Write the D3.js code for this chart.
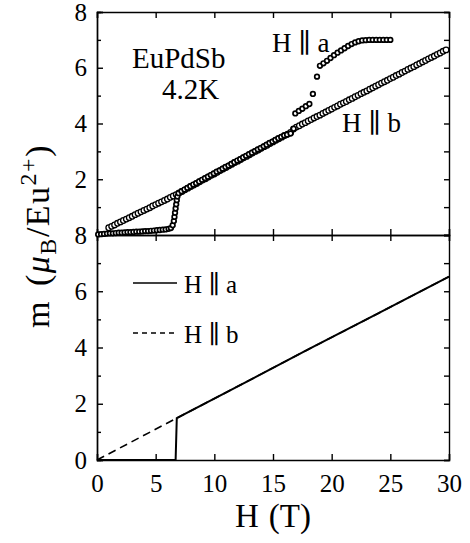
<!DOCTYPE html>
<html>
<head>
<meta charset="utf-8">
<script src="https://cdn.jsdelivr.net/npm/d3@7"></script>
<style>
  html, body { margin: 0; padding: 0; background: #fff; }
  svg { display: block; }
  text { font-family: 'Liberation Serif', 'DejaVu Serif', serif; fill: #000; }
  .axis path, .axis line { stroke: #000; stroke-width: 1.4; }
  .axis text { font-size: 25px; }
</style>
</head>
<body>
<div id="chart"></div>
<script>
// measured m(H), H || a  (top panel, [H in T, m in muB/Eu])
const measuredA = [
  [0.1, 0.02], [0.35, 0.03], [0.6, 0.04], [0.85, 0.05], [1.1, 0.06], [1.35, 0.06], [1.6, 0.07], [1.85, 0.08],
  [2.1, 0.08], [2.35, 0.09], [2.6, 0.10], [2.85, 0.10], [3.1, 0.11], [3.35, 0.12], [3.6, 0.12], [3.85, 0.13],
  [4.1, 0.14], [4.35, 0.14], [4.6, 0.15], [4.85, 0.16], [5.1, 0.17], [5.35, 0.18], [5.6, 0.19], [5.85, 0.20],
  [6.1, 0.22], [6.3, 0.25], [6.45, 0.35], [6.55, 0.50], [6.6, 0.65], [6.65, 0.80], [6.7, 0.95], [6.75, 1.10],
  [6.8, 1.25], [6.85, 1.38], [6.95, 1.50], [7.2, 1.57], [7.45, 1.63], [7.7, 1.69], [7.95, 1.75], [8.2, 1.81],
  [8.45, 1.86], [8.7, 1.92], [8.95, 1.98], [9.2, 2.04], [9.45, 2.09], [9.7, 2.15], [9.95, 2.21], [10.2, 2.27],
  [10.45, 2.32], [10.7, 2.38], [10.95, 2.44], [11.2, 2.49], [11.45, 2.55], [11.7, 2.61], [11.95, 2.67], [12.2, 2.72],
  [12.45, 2.78], [12.7, 2.84], [12.95, 2.90], [13.2, 2.95], [13.45, 3.01], [13.7, 3.07], [13.95, 3.12], [14.2, 3.18],
  [14.45, 3.24], [14.7, 3.30], [14.95, 3.35], [15.2, 3.41], [15.45, 3.47], [15.7, 3.52], [15.95, 3.57], [16.2, 3.60],
  [16.5, 3.64], [16.76, 3.81], [16.9, 4.36], [17.2, 4.45], [17.5, 4.53], [17.8, 4.62], [18.1, 4.70], [18.4, 5.06],
  [18.75, 5.68], [19.0, 6.07], [19.3, 6.16], [19.6, 6.25], [19.9, 6.35], [20.2, 6.45], [20.5, 6.54], [20.8, 6.62],
  [21.1, 6.70], [21.4, 6.78], [21.7, 6.85], [22.0, 6.91], [22.3, 6.95], [22.6, 6.98], [22.9, 6.99], [23.2, 7.0],
  [23.5, 7.0], [23.8, 7.0], [24.1, 7.0], [24.4, 7.0], [24.7, 7.0], [25.0, 7.0]
]

// measured m(H), H || b  (top panel)
const measuredB = [
  [1.0, 0.26], [1.25, 0.31], [1.5, 0.36], [1.75, 0.42], [2.0, 0.47], [2.25, 0.52], [2.5, 0.57], [2.75, 0.62],
  [3.0, 0.67], [3.25, 0.73], [3.5, 0.78], [3.75, 0.83], [4.0, 0.88], [4.25, 0.93], [4.5, 0.98], [4.75, 1.04],
  [5.0, 1.09], [5.25, 1.14], [5.5, 1.19], [5.75, 1.24], [6.0, 1.29], [6.25, 1.35], [6.5, 1.40], [6.75, 1.45],
  [7.0, 1.51], [7.25, 1.56], [7.5, 1.62], [7.75, 1.68], [8.0, 1.74], [8.25, 1.79], [8.5, 1.85], [8.75, 1.91],
  [9.0, 1.97], [9.25, 2.02], [9.5, 2.08], [9.75, 2.14], [10.0, 2.19], [10.25, 2.25], [10.5, 2.31], [10.75, 2.37],
  [11.0, 2.42], [11.25, 2.48], [11.5, 2.54], [11.75, 2.60], [12.0, 2.65], [12.25, 2.71], [12.5, 2.77], [12.75, 2.82],
  [13.0, 2.88], [13.25, 2.94], [13.5, 3.00], [13.75, 3.05], [14.0, 3.11], [14.25, 3.17], [14.5, 3.22], [14.75, 3.28],
  [15.0, 3.34], [15.25, 3.40], [15.5, 3.45], [15.75, 3.51], [16.0, 3.57], [16.25, 3.62], [16.5, 3.68], [16.75, 3.80],
  [17.0, 3.87], [17.25, 3.92], [17.5, 3.98], [17.75, 4.03], [18.0, 4.09], [18.25, 4.14], [18.5, 4.20], [18.75, 4.25],
  [19.0, 4.30], [19.25, 4.36], [19.5, 4.41], [19.75, 4.47], [20.0, 4.52], [20.25, 4.58], [20.5, 4.63], [20.75, 4.69],
  [21.0, 4.74], [21.25, 4.79], [21.5, 4.85], [21.75, 4.90], [22.0, 4.96], [22.25, 5.01], [22.5, 5.07], [22.75, 5.12],
  [23.0, 5.17], [23.25, 5.23], [23.5, 5.28], [23.75, 5.34], [24.0, 5.39], [24.25, 5.45], [24.5, 5.50], [24.75, 5.55],
  [25.0, 5.61], [25.25, 5.66], [25.5, 5.72], [25.75, 5.77], [26.0, 5.83], [26.25, 5.88], [26.5, 5.94], [26.75, 5.99],
  [27.0, 6.04], [27.25, 6.10], [27.5, 6.15], [27.75, 6.21], [28.0, 6.26], [28.25, 6.32], [28.5, 6.37], [28.75, 6.42],
  [29.0, 6.48], [29.25, 6.53], [29.5, 6.59], [29.75, 6.64]
]

// calculated curves (bottom panel)
const calcA = [[0, 0], [6.7, 0], [6.8, 1.49], [12, 2.62], [18, 3.93], [24, 5.22], [30, 6.52]]
const calcB = [[0, 0], [6.8, 1.49], [12, 2.62], [18, 3.93], [24, 5.22], [30, 6.52]]

const xTicks = [0, 5, 10, 15, 20, 25, 30]
const yTicksTop = [2, 4, 6, 8]
const yTicksBottom = [0, 2, 4, 6, 8]
const yMinor = [1, 3, 5, 7]
const yAllTicks = [0, 1, 2, 3, 4, 5, 6, 7, 8]

const W = 470, H = 543
const left = 97, right = 449
const topY0 = 12, midY = 235, botY1 = 460

const svg = d3.select('#chart').append('svg')
  .attr('width', W).attr('height', H)

const x = d3.scaleLinear().domain([0, 30]).range([left, right])
const yTop = d3.scaleLinear().domain([0, 8]).range([midY, topY0])
const yBot = d3.scaleLinear().domain([0, 8]).range([botY1, midY])

function drawFrame (y, labels, showXLabels) {
  // left axis, major + minor
  svg.append('g').attr('class', 'axis')
    .attr('transform', `translate(${left},0)`)
    .call(d3.axisLeft(y).tickValues(labels).tickSize(-6).tickPadding(10).tickFormat(d3.format('d')))
  svg.append('g').attr('class', 'axis')
    .attr('transform', `translate(${left},0)`)
    .call(d3.axisLeft(y).tickValues(yMinor).tickSize(-4).tickFormat(''))
  // right axis
  svg.append('g').attr('class', 'axis')
    .attr('transform', `translate(${right},0)`)
    .call(d3.axisRight(y).tickValues(yAllTicks).tickSize(-5).tickFormat(''))
  // top + bottom axes
  svg.append('g').attr('class', 'axis')
    .attr('transform', `translate(0,${y.range()[1]})`)
    .call(d3.axisTop(x).tickValues(xTicks).tickSize(-6).tickFormat(''))
  svg.append('g').attr('class', 'axis')
    .attr('transform', `translate(0,${y.range()[0]})`)
    .call(d3.axisBottom(x).tickValues(xTicks).tickSize(-6).tickPadding(14)
      .tickFormat(showXLabels ? d3.format('d') : ''))
}

drawFrame(yTop, yTicksTop, false)
drawFrame(yBot, yTicksBottom, true)
svg.selectAll('.axis').attr('font-family', null).attr('font-size', null)
svg.selectAll('.axis .domain').attr('stroke-width', 1.6)

// top panel: measured points
const gTop = svg.append('g')
gTop.selectAll('.ptB').data(measuredB).join('circle')
  .attr('class', 'ptB')
  .attr('cx', d => x(d[0])).attr('cy', d => yTop(d[1]))
  .attr('r', 2.8)
  .attr('fill', '#fff').attr('stroke', '#000').attr('stroke-width', 1.3)
gTop.selectAll('.ptA').data(measuredA).join('circle')
  .attr('class', 'ptA')
  .attr('cx', d => x(d[0])).attr('cy', d => yTop(d[1]))
  .attr('r', 2.3)
  .attr('fill', '#fff').attr('stroke', '#000').attr('stroke-width', 1.7)

// bottom panel: calculated curves
const lineBot = d3.line().x(d => x(d[0])).y(d => yBot(d[1]))
svg.append('path').datum(calcB)
  .attr('d', lineBot).attr('fill', 'none')
  .attr('stroke', '#000').attr('stroke-width', 1.6).attr('stroke-dasharray', '8,5')
svg.append('path').datum(calcA)
  .attr('d', lineBot).attr('fill', 'none')
  .attr('stroke', '#000').attr('stroke-width', 2)

// legend
svg.append('line').attr('x1', 133).attr('x2', 177).attr('y1', 283).attr('y2', 283)
  .attr('stroke', '#000').attr('stroke-width', 1.3)
svg.append('line').attr('x1', 133).attr('x2', 177).attr('y1', 333).attr('y2', 333)
  .attr('stroke', '#000').attr('stroke-width', 1.3).attr('stroke-dasharray', '5,4')
svg.append('text').attr('x', 184).attr('y', 293).style('font-size', '25px').text('H ∥ a')
svg.append('text').attr('x', 184).attr('y', 343).style('font-size', '25px').text('H ∥ b')

// annotations
svg.append('text').attr('x', 132).attr('y', 68).style('font-size', '29px').text('EuPdSb')
svg.append('text').attr('x', 162).attr('y', 99).style('font-size', '29px').text('4.2K')
svg.append('text').attr('x', 272).attr('y', 52).style('font-size', '27px').text('H ∥ a')
svg.append('text').attr('x', 342).attr('y', 132).style('font-size', '27px').text('H ∥ b')

// axis labels
const xl = svg.append('text').attr('x', (left + right) / 2).attr('y', 527)
  .attr('text-anchor', 'middle').style('font-size', '33px')
xl.append('tspan').text('H')
xl.append('tspan').attr('dx', 10).text('(T)')

const yl = svg.append('text')
  .attr('transform', `translate(49,${(topY0 + botY1) / 2}) rotate(-90)`)
  .attr('text-anchor', 'middle').style('font-size', '34px').style('letter-spacing', '1.5px')
yl.append('tspan').text('m')
yl.append('tspan').attr('dx', 14).text('(')
yl.append('tspan').style('font-style', 'italic').text('μ')
yl.append('tspan').attr('dy', 7).style('font-size', '24px').text('B')
yl.append('tspan').attr('dy', -7).text('/Eu')
yl.append('tspan').attr('dy', -13).style('font-size', '24px').text('2+')
yl.append('tspan').attr('dy', 13).text(')')
</script>
</body>
</html>
